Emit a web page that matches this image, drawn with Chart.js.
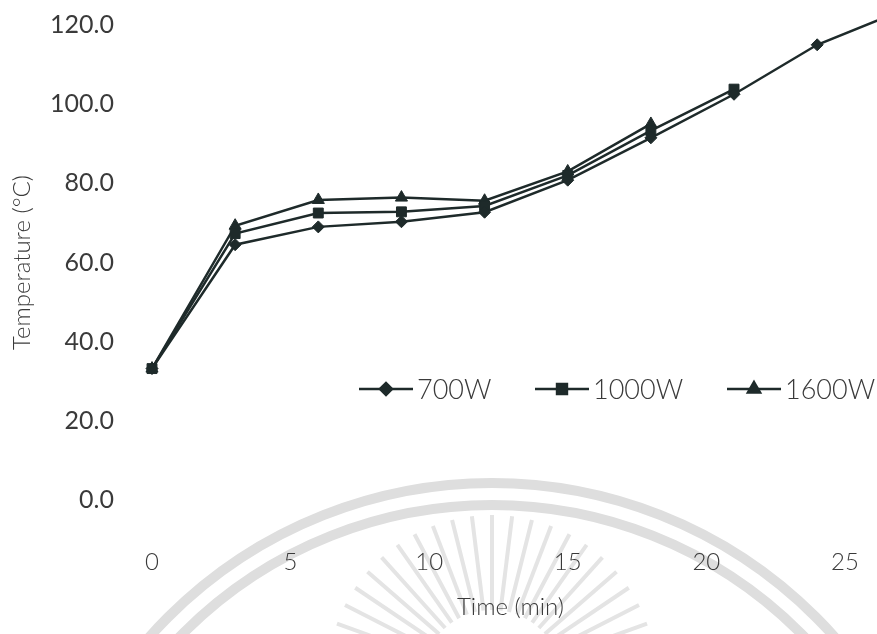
<!DOCTYPE html>
<html>
<head>
<meta charset="utf-8">
<script src="https://cdn.jsdelivr.net/npm/chart.js"></script>
<style>
  html, body { margin: 0; padding: 0; background: #ffffff; }
  #wrap { width: 877px; height: 634px; position: relative; }
</style>
</head>
<body>
<div id="wrap"><canvas id="chart"></canvas></div>
<script>
// data (time in min, temperature in °C)
const time = [0, 3, 6, 9, 12, 15, 18, 21, 24, 27];
const temp700 = [33.2, 64.5, 69.0, 70.3, 72.7, 80.8, 91.5, 102.5, 115.0, 123.5];
const temp1000 = [33.2, 67.3, 72.5, 72.8, 74.3, 82.0, 93.3, 103.8];
const temp1600 = [33.2, 69.3, 75.8, 76.4, 75.6, 83.0, 95.0];
const seriesNames = ['700W', '1000W', '1600W'];
const yTicks = [0, 20, 40, 60, 80, 100, 120];
const xTicks = [0, 5, 10, 15, 20, 25];

const INK = '#1e2a2a';
const TEXT = '#3a3a3a';
const FONT = "Lato, 'Open Sans', sans-serif";

function toPoints(values) {
  return values.map((v, i) => ({ x: time[i], y: v }));
}

function makeSet(label, values, style, radius) {
  return {
    label: label,
    data: toPoints(values),
    borderColor: INK,
    backgroundColor: INK,
    borderWidth: 2.5,
    pointStyle: style,
    pointRadius: radius,
    pointHoverRadius: radius,
    pointBorderWidth: 1,
    tension: 0,
    clip: false,
  };
}

/* ── faint round watermark behind the plot ── */
const watermark = {
  id: 'watermark',
  beforeDraw(chart) {
    const ctx = chart.ctx;
    ctx.save();
    ctx.strokeStyle = '#dedede';
    ctx.lineWidth = 10;
    ctx.beginPath();
    ctx.arc(492, 941, 458, Math.PI, 2 * Math.PI);
    ctx.stroke();
    ctx.beginPath();
    ctx.arc(492, 941, 436, Math.PI, 2 * Math.PI);
    ctx.stroke();
    // sun rays
    ctx.lineWidth = 4;
    ctx.strokeStyle = '#e4e4e4';
    for (let a = 200; a <= 340; a += 7) {
      const r = a * Math.PI / 180;
      const cx = 492, cy = 680;
      ctx.beginPath();
      ctx.moveTo(cx + Math.cos(r) * 70, cy + Math.sin(r) * 70);
      ctx.lineTo(cx + Math.cos(r) * 165, cy + Math.sin(r) * 165);
      ctx.stroke();
    }
    ctx.restore();
  },
};

/* ── legend drawn inside the plot area ── */
const innerLegend = {
  id: 'innerLegend',
  afterDraw(chart) {
    const ctx = chart.ctx;
    const xs = [359, 535, 727];
    const y = 389;
    ctx.save();
    chart.data.datasets.forEach((ds, i) => {
      const x0 = xs[i];
      ctx.strokeStyle = INK;
      ctx.lineWidth = 2.5;
      ctx.beginPath();
      ctx.moveTo(x0, y);
      ctx.lineTo(x0 + 54, y);
      ctx.stroke();
      Chart.helpers.drawPoint(ctx, {
        pointStyle: ds.pointStyle,
        radius: ds.pointRadius,
        borderWidth: 1,
      }, x0 + 27, y);
      ctx.fillStyle = INK;
      ctx.fill();
      ctx.fillStyle = TEXT;
      ctx.font = '300 27px ' + FONT;
      ctx.textBaseline = 'middle';
      ctx.fillText(ds.label, x0 + 58, y + 1);
    });
    ctx.restore();
  },
};

new Chart(document.getElementById('chart'), {
  type: 'line',
  data: {
    datasets: [
      makeSet(seriesNames[0], temp700, 'rectRot', 6),
      makeSet(seriesNames[1], temp1000, 'rect', 7),
      makeSet(seriesNames[2], temp1600, 'triangle', 7),
    ],
  },
  options: {
    responsive: true,
    maintainAspectRatio: false,
    animation: false,
    layout: { padding: { top: 25, right: 0, left: 0, bottom: 0 } },
    plugins: {
      legend: { display: false },
      tooltip: { enabled: false },
    },
    scales: {
      x: {
        type: 'linear',
        min: 0,
        max: 25.87,
        grid: { display: false },
        border: { display: false },
        afterBuildTicks(scale) {
          scale.ticks = xTicks.map((v) => ({ value: v }));
        },
        afterFit(scale) {
          scale.height = 134;
          scale.paddingLeft = 0;
          scale.paddingRight = 0;
        },
        ticks: {
          padding: 40,
          color: TEXT,
          font: { family: FONT, size: 24, weight: '300' },
        },
        title: {
          display: true,
          text: 'Time (min)',
          color: TEXT,
          font: { family: FONT, size: 24, weight: '300' },
          padding: { top: 0, bottom: 12 },
        },
      },
      y: {
        min: 0,
        max: 120,
        grid: { display: false },
        border: { display: false },
        afterBuildTicks(scale) {
          scale.ticks = yTicks.map((v) => ({ value: v }));
        },
        afterFit(scale) {
          scale.width = 152;
          scale.paddingTop = 0;
          scale.paddingBottom = 0;
        },
        ticks: {
          padding: 30,
          color: TEXT,
          font: { family: FONT, size: 25, weight: '400' },
          callback: (v) => Number(v).toFixed(1),
        },
        title: {
          display: true,
          text: 'Temperature (°C)',
          color: TEXT,
          font: { family: FONT, size: 24, weight: '300' },
          padding: { top: 8, bottom: 0 },
        },
      },
    },
  },
  plugins: [watermark, innerLegend],
});
</script>
</body>
</html>
